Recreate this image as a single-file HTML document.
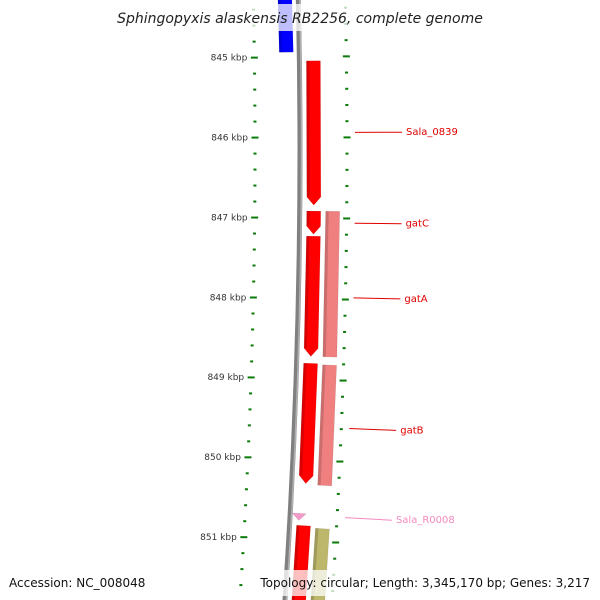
<!DOCTYPE html>
<html><head><meta charset="utf-8"><style>
html,body{margin:0;background:#fff;overflow:hidden;width:600px;height:600px}
svg{display:block;font-family:"DejaVu Sans","Liberation Sans",sans-serif}
</style></head><body>
<svg id="map" width="600" height="600" viewBox="0 0 600 600" xmlns="http://www.w3.org/2000/svg" overflow="hidden">
<g id="ticks"></g>
<g id="backbone"></g>
<g id="features"></g>
<g id="labels"></g>
<rect x="110" y="4" width="380" height="27" fill="#fff" opacity="0.75"/>
<text x="300" y="23" text-anchor="middle" font-size="14" font-style="italic" fill="#222">Sphingopyxis alaskensis RB2256, complete genome</text>
<rect x="258" y="570" width="338" height="26" fill="#fff" opacity="0.75"/>
<text x="9" y="587" font-size="12" fill="#111">Accession: NC_008048</text>
<text x="590" y="587" text-anchor="end" font-size="12" fill="#111">Topology: circular; Length: 3,345,170 bp; Genes: 3,217</text>
</svg>
<script>
const featStart=[843000,845050,846913,847224,848801,850665,850814,846913,848814,850839];
const featEnd=[844938,846838,847199,848714,850292,850752,852200,848714,850304,852200];
const featRing=[-1,1,1,1,1,0,1,2,2,2];
const featColor=["#0000ff","#ff0000","#ff0000","#ff0000","#ff0000","#f49ac8","#ff0000","#f08080","#f08080","#bdb76b"];
const featArrow=[0,1,1,1,1,0,0,0,0,0];
const labelText=["Sala_0839","gatC","gatA","gatB","Sala_R0008"];
const labelBp=[845950,847070,847990,849600,850700];
const labelColor=["#e00000","#e00000","#e00000","#e00000","#f48ac0"];
const tickLabels=["845 kbp","846 kbp","847 kbp","848 kbp","849 kbp","850 kbp","851 kbp"];
const tickKbp=[845,846,847,848,849,850,851];

const NS="http://www.w3.org/2000/svg";
const R=6750, cx=300-R, cy=150;
function bpY(bp){return 57+(bp-845000)*0.0805;}
function ang(bp){return (bpY(bp)-cy)/R;}
function pt(bp,off){const a=ang(bp),r=R+off;return [cx+r*Math.cos(a),cy+r*Math.sin(a)];}
function mk(tag,attrs,parent){const e=document.createElementNS(NS,tag);for(const k in attrs)e.setAttribute(k,attrs[k]);parent.appendChild(e);return e;}

const bb=document.getElementById('backbone');
const p1=pt(843500,0),p2=pt(852300,0);
let e=mk('path',{d:`M${p1[0]},${p1[1]} A${R},${R} 0 0 1 ${p2[0]},${p2[1]}`,fill:'none',stroke:'#808080','stroke-width':5},bb);


const q1=pt(843500,1.5),q2=pt(852300,1.5);
e=mk('path',{d:`M${q1[0]},${q1[1]} A${R+1.5},${R+1.5} 0 0 1 ${q2[0]},${q2[1]}`,fill:'none',stroke:'#b0b0b0','stroke-width':1.5},bb);



const tg=document.getElementById('ticks');
for(let bp=843800;bp<=851800;bp+=200){
  const major=bp%1000===0;
  [-45,47].forEach(off=>{
    const w=major?7:3,[x,y]=pt(bp,off);
    const t=mk('rect',{x:x-w/2,y:y-1,width:w,height:2,fill:'#0a7a0a'},tg);
    
    
  });
}
tickKbp.forEach((k,i)=>{
  const [x,y]=pt(k*1000,-52);
  const t=mk('text',{x:x,y:y+3,'text-anchor':'end','font-size':9,fill:'#333'},tg);
  t.textContent=tickLabels[i];
  
  
});

const fg=document.getElementById('features');
const ringIn={"-1":-20,"0":4,"1":7,"2":26}, ringOut={"-1":-6,"0":14,"1":21,"2":40};
featStart.forEach((s,i)=>{
  const r=featRing[i],a=ringIn[r],b=ringOut[r],end=featEnd[i];
  let pts=[];
  if(featRing[i]===0){
    pts=[pt(s,a-2),pt(s,b+2),pt(end,(a+b)/2)];
  }else if(featArrow[i]){
    const sh=Math.min(100,(end-s)*0.5);
    pts=[pt(s,a),pt(s,b),pt(end-sh,b),pt(end,(a+b)/2),pt(end-sh,a)];
  }else{
    pts=[pt(s,a),pt(s,b),pt(end,b),pt(end,a)];
  }
  const f=mk('polygon',{points:pts.map(p=>p.join(',')).join(' '),fill:featColor[i],stroke:'rgba(0,0,0,0.12)','stroke-width':0.6},fg);
  
  
  if(r!==0){
    const sp=[pt(s,a),pt(s,a+3),pt(end-(featArrow[i]?100:0),a+3),pt(end-(featArrow[i]?100:0),a)];
    const sd=mk('polygon',{points:sp.map(p=>p.join(',')).join(' '),fill:'rgba(0,0,0,0.15)'},fg);
    
    
  }
});

const lg=document.getElementById('labels');
labelText.forEach((t,i)=>{
  const [x1,y1]=pt(labelBp[i],55),[x2,y2]=pt(labelBp[i],102);
  const l=mk('line',{x1:x1,y1:y1-1,x2:x2,y2:y2-1,stroke:labelColor[i],'stroke-width':1},lg);
  
  
  const tx=mk('text',{x:x2+4,y:y2+2,'font-size':10,fill:labelColor[i]},lg);
  tx.textContent=t;
  
  
});
</script>
</body></html>
